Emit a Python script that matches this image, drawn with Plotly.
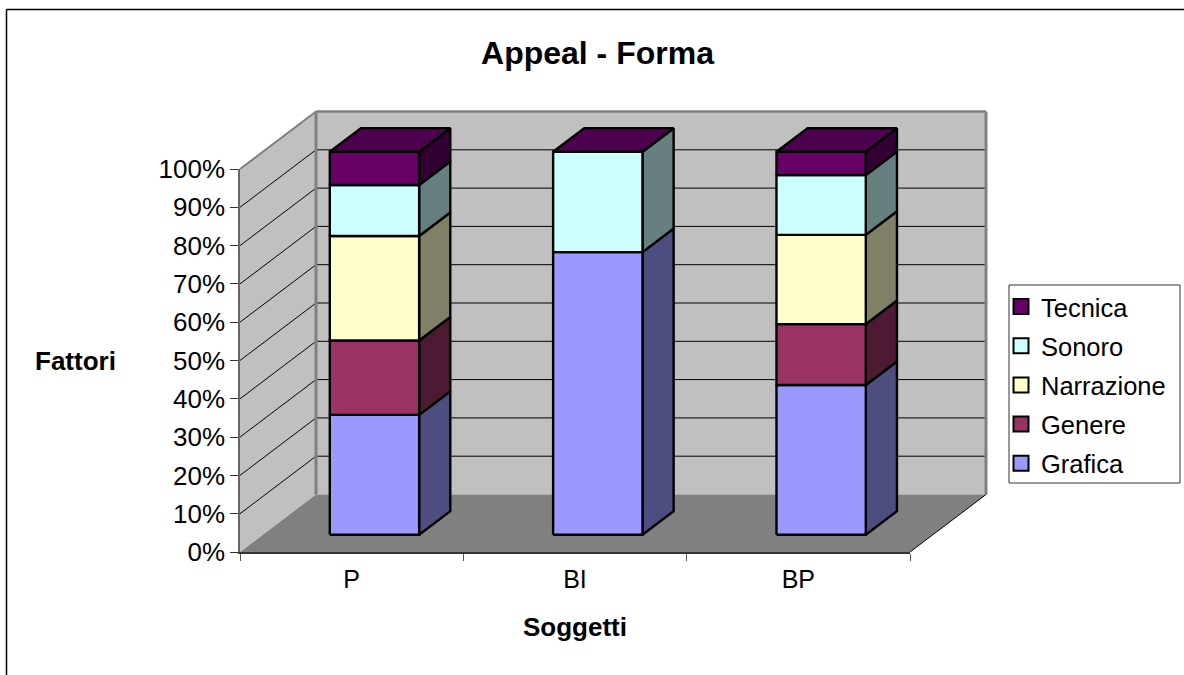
import plotly.graph_objects as go

# ---- data (percent of each subject) ----
categories = ["P", "BI", "BP"]
series_names = ["Grafica", "Genere", "Narrazione", "Sonoro", "Tecnica"]
grafica = [31.3, 73.8, 39.1]
genere = [19.4, 0, 15.9]
narrazione = [27.3, 0, 23.3]
sonoro = [13.3, 26.2, 15.6]
tecnica = [8.7, 0, 6.1]
y_ticks = list(range(0, 101, 10))
y_tick_labels = [f"{v}%" for v in y_ticks]

front_colors = ["#9999FF", "#993366", "#FFFFCC", "#CCFFFF", "#660066"]
side_colors = ["#4D4D80", "#4D1A33", "#808066", "#668080", "#330033"]
top_color = "#4D004D"

W, H = 1184, 675
AX_L, AX_R, AX_T, AX_B = 240, 910, 169, 552      # visible axes on the page
ML, MR, MT, MB = 200, 30, 100, 115               # plot region that holds the 3D drawing
PW, PH = W - ML - MR, H - MT - MB
UX = (AX_R - AX_L) / len(categories)
UY = (AX_B - AX_T) / 100


def px(x):
    return (x - ML) / PW


def py(y):
    return (H - MB - y) / PH


# oblique projection: depth d in [0, 1] shifts a point up and right on the axes
DX, DY = 76 / UX, 57.5 / UY


def proj(x, y, d):
    return x + d * DX, y + d * DY


def add_poly(fig, points, fill, line="rgba(0,0,0,0)", width=0):
    xs = [p[0] for p in points] + [points[0][0]]
    ys = [p[1] for p in points] + [points[0][1]]
    fig.add_trace(go.Scatter(x=xs, y=ys, mode="lines", fill="toself", fillcolor=fill,
                             line=dict(color=line, width=width),
                             showlegend=False, hoverinfo="skip"))


def add_line(fig, a, b, color, width):
    fig.add_trace(go.Scatter(x=[a[0], b[0]], y=[a[1], b[1]], mode="lines",
                             line=dict(color=color, width=width),
                             showlegend=False, hoverinfo="skip"))


fig = go.Figure()
n = len(categories)

# walls and floor
add_poly(fig, [proj(0, 0, 1), proj(n, 0, 1), proj(n, 100, 1), proj(0, 100, 1)], "#C0C0C0")
add_poly(fig, [proj(0, 0, 0), proj(0, 0, 1), proj(0, 100, 1), proj(0, 100, 0)], "#C0C0C0")
add_poly(fig, [proj(0, 0, 0), proj(n, 0, 0), proj(n, 0, 1), proj(0, 0, 1)], "#808080")
for v in y_ticks[1:-1]:
    add_line(fig, proj(0, v, 0), proj(0, v, 1), "#000000", 1)
    add_line(fig, proj(0, v, 1), proj(n, v, 1), "#000000", 1)
add_line(fig, proj(0, 100, 1), proj(n, 100, 1), "#808080", 2.5)
add_line(fig, proj(0, 100, 0), proj(0, 100, 1), "#808080", 2)
add_line(fig, proj(0, 0, 1), proj(0, 100, 1), "#808080", 3)
add_line(fig, proj(n, 0, 1), proj(n, 100, 1), "#808080", 3)
add_line(fig, proj(n, 0, 0), proj(n, 0, 1), "#000000", 1)

# stacked 3D columns
values = [grafica, genere, narrazione, sonoro, tecnica]
BAR_W, D0, D1 = 0.4, 0.3, 0.71
EDGE = 2.4
for c in range(n):
    x0, x1 = c + 0.5 - BAR_W / 2, c + 0.5 + BAR_W / 2
    base = 0
    for s, series in enumerate(values):
        top = base + series[c]
        if series[c] > 0:
            add_poly(fig, [proj(x1, base, D0), proj(x1, base, D1), proj(x1, top, D1), proj(x1, top, D0)],
                     side_colors[s], "#000000", EDGE)
            add_poly(fig, [proj(x0, base, D0), proj(x1, base, D0), proj(x1, top, D0), proj(x0, top, D0)],
                     front_colors[s], "#000000", EDGE)
        base = top
    add_poly(fig, [proj(x0, base, D0), proj(x1, base, D0), proj(x1, base, D1), proj(x0, base, D1)],
             top_color, "#000000", EDGE)

# legend entries (top entry first)
for s in reversed(range(len(series_names))):
    name = series_names[s]
    fig.add_trace(go.Scatter(x=[None], y=[None], mode="markers", name=name, legendgroup=name,
                             marker=dict(symbol="square", size=15, color=front_colors[s],
                                         line=dict(color="#000000", width=2))))

# empty trace that puts the visible axes on the page
fig.add_trace(go.Scatter(x=[None], y=[None], xaxis="x2", yaxis="y2", showlegend=False, hoverinfo="skip"))

FONT = "Liberation Sans, Arial, sans-serif"
fig.update_layout(
    width=W, height=H, autosize=False,
    margin=dict(l=ML, r=MR, t=MT, b=MB, pad=0),
    paper_bgcolor="#FFFFFF", plot_bgcolor="rgba(0,0,0,0)",
    font=dict(family=FONT, size=26, color="#000000"),
    title=dict(text="<b>Appeal - Forma</b>", x=597.5 / W, xanchor="center", y=1 - 53 / H, yanchor="middle",
               font=dict(family=FONT, size=32)),
    # axes that carry the projected drawing, same scale as the visible axes
    xaxis=dict(domain=[0, 1], range=[(ML - AX_L) / UX, (W - MR - AX_L) / UX], visible=False, fixedrange=True),
    yaxis=dict(domain=[0, 1], range=[(AX_B - (H - MB)) / UY, (AX_B - MT) / UY], visible=False, fixedrange=True),
    xaxis2=dict(domain=[px(AX_L), px(AX_R)], anchor="y2", range=[0, n], tickmode="array",
                tickvals=[c + 0.5 for c in range(n)], ticktext=categories, ticks="", showgrid=False,
                zeroline=False, showline=True, linecolor="#333333", linewidth=1.5, tickfont=dict(size=25),
                ticklabelstandoff=4, fixedrange=True,
                minor=dict(tickmode="array", tickvals=list(range(n + 1)), ticks="outside", ticklen=7,
                           tickcolor="#555555", tickwidth=1, showgrid=False)),
    yaxis2=dict(domain=[py(AX_B), py(AX_T)], anchor="x2", range=[0, 100], tickmode="array",
                tickvals=y_ticks, ticktext=y_tick_labels, ticks="outside", ticklen=8, tickcolor="#333333",
                tickwidth=1, showgrid=False, zeroline=False, showline=True, linecolor="#666666",
                linewidth=1.5, tickfont=dict(size=26), fixedrange=True),
    legend=dict(x=px(1001), xanchor="left", y=py(283.5), yanchor="top", bgcolor="rgba(0,0,0,0)",
                traceorder="grouped", tracegroupgap=3, font=dict(size=25.5), borderwidth=0,
                itemclick=False, itemdoubleclick=False),
    annotations=[
        dict(text="<b>Soggetti</b>", xref="paper", yref="paper", x=px(575), y=py(627), xanchor="center",
             yanchor="middle", showarrow=False, font=dict(size=26)),
        dict(text="<b>Fattori</b>", xref="paper", yref="paper", x=px(75.5), y=py(361), xanchor="center",
             yanchor="middle", showarrow=False, font=dict(size=26)),
    ],
    shapes=[
        dict(type="rect", xref="paper", yref="paper", x0=px(1009), x1=px(1180), y0=py(285), y1=py(483),
             line=dict(color="#333333", width=1), fillcolor="rgba(0,0,0,0)", layer="below"),
        dict(type="line", xref="paper", yref="paper", x0=px(6.5), x1=px(1184), y0=py(9.5), y1=py(9.5),
             line=dict(color="#000000", width=1.5)),
        dict(type="line", xref="paper", yref="paper", x0=px(6.5), x1=px(6.5), y0=py(9.5), y1=py(675),
             line=dict(color="#000000", width=1.5)),
    ],
)

fig.write_html("out.html", post_script="document.body.style.margin='0';", config={"displayModeBar": False})
